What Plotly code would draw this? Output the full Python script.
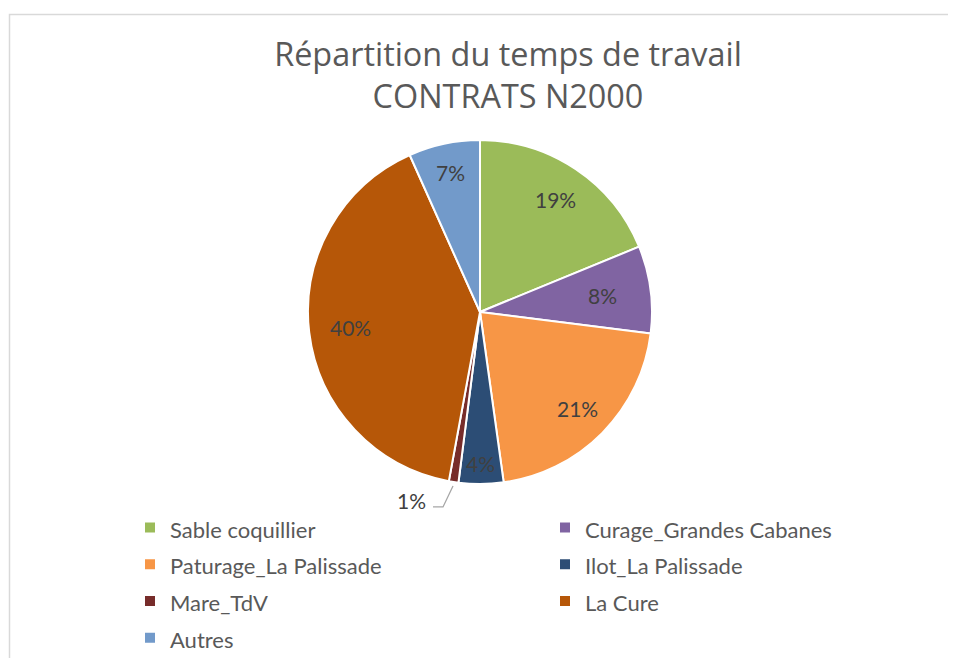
import math
import plotly.graph_objects as go

labels = ["Sable coquillier", "Curage_Grandes Cabanes", "Paturage_La Palissade",
          "Ilot_La Palissade", "Mare_TdV", "La Cure", "Autres"]
values = [18.8, 8.2, 20.8, 4.2, 0.9, 40.4, 6.7]
colors = ["#9BBB59", "#8064A2", "#F79646", "#2C4D75", "#772C2A", "#B65708", "#729ACA"]

# where each % label sits, as a fraction of the radius (None = outside with a leader line)
label_r = [0.79, 0.72, 0.80, 0.88, None, 0.76, 0.83]

OFF = 8  # the page body margin shifts the figure by 8px
W, H = 956 - OFF, 666 - 2 * OFF  # keep the figure inside the window
cx, cy, R = 480, 312, 172  # page pixels
FONT = "Lato, 'Open Sans', sans-serif"
TITLE_FONT = "'Open Sans', Lato, sans-serif"


def paper(x, y):
    return (x - OFF) / W, 1 - (y - OFF) / H


px0, py0 = paper(cx - R, cy + R)
px1, py1 = paper(cx + R, cy - R)

fig = go.Figure(go.Pie(
    labels=[f"<span style='font-size:22px'>{l}</span>" for l in labels],
    values=values,
    sort=False,
    direction="clockwise",
    rotation=0,
    marker=dict(colors=colors, line=dict(color="white", width=2)),
    textinfo="none",
    hoverinfo="percent",
    domain=dict(x=[px0, px1], y=[py0, py1]),
))

# percentage labels, placed at the middle angle of each slice
total = sum(values)
cum = 0
annotations = []
shapes = []
for v, r in zip(values, label_r):
    mid = (cum + v / 2) / total * 2 * math.pi
    cum += v
    txt = f"{round(v / total * 100)}%"
    if r is not None:
        x, y = paper(cx + r * R * math.sin(mid), cy - r * R * math.cos(mid))
    else:
        # small slice: label outside with a bent leader line
        ex, ey = cx + (R + 4) * math.sin(mid), cy - (R + 4) * math.cos(mid)
        p0 = paper(ex, ey)
        p1 = paper(ex - 10, ey + 21)
        p2 = paper(ex - 20, ey + 21)
        shapes.append(dict(type="path", xref="paper", yref="paper",
                           path=f"M{p0[0]},{p0[1]} L{p1[0]},{p1[1]} L{p2[0]},{p2[1]}",
                           line=dict(color="#A6A6A6", width=1.3)))
        x, y = paper(ex - 42, ey + 15)
    annotations.append(dict(x=x, y=y, xref="paper", yref="paper", text=txt, showarrow=False,
                            xanchor="center", yanchor="middle",
                            font=dict(family=FONT, size=21, color="#404040")))

# chart frame
fx, fy = paper(9.5, 14.5)
shapes.append(dict(type="rect", xref="paper", yref="paper",
                   x0=fx, y0=-0.1, x1=1.1, y1=fy,
                   line=dict(color="#D9D9D9", width=1.5), fillcolor="rgba(0,0,0,0)"))

tx, ty = paper(508, 66)
lx, ly = paper(130, 504)

fig.update_layout(
    width=W, height=H,
    margin=dict(l=0, r=0, t=0, b=0, autoexpand=False),
    paper_bgcolor="white",
    plot_bgcolor="white",
    font=dict(family=FONT, color="#595959"),
    title=dict(text="Répartition du temps de travail<br>CONTRATS N2000",
               x=tx, xanchor="center", y=ty, yanchor="top",
               font=dict(family=TITLE_FONT, size=32.4, color="#595959")),
    legend=dict(orientation="h", x=lx, xanchor="left", y=ly, yanchor="top",
                entrywidth=370, font=dict(family=FONT, size=26, color="#595959"),
                bgcolor="rgba(0,0,0,0)"),
    annotations=annotations,
    shapes=shapes,
)

fig.write_html("out.html")
